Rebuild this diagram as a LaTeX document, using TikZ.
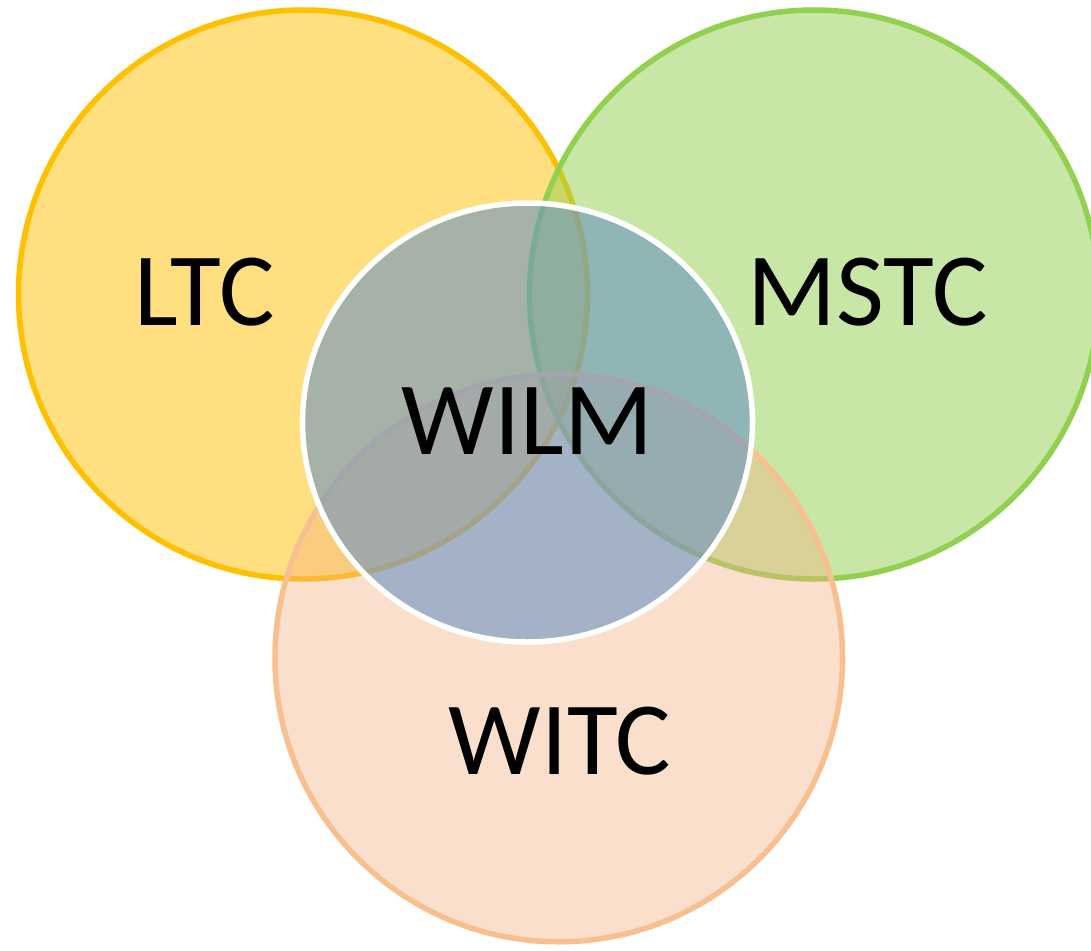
\documentclass[tikz,border=0pt]{standalone}
\usepackage{fontspec}
\setmainfont{Carlito}
\usetikzlibrary{shapes.geometric}
\definecolor{ltcline}{HTML}{FFC000}
\definecolor{mstcline}{HTML}{92D050}
\definecolor{witcline}{HTML}{F8C08E}
\definecolor{witcfill}{HTML}{F4B183}
\definecolor{wilmfill}{HTML}{6B94C3}
\tikzset{
  venn/.style={circle, inner sep=0pt, line width=5.5pt, fill opacity=0.5, draw opacity=1},
  lbl/.style={inner sep=0pt, text=black, font=\fontsize{104}{118}\selectfont}
}
\begin{document}
\begin{tikzpicture}[x=1pt, y=-1pt]
\useasboundingbox (0,0) rectangle (1091,950);
\clip (0,0) rectangle (1091,950);
\fill[white] (0,0) rectangle (1091,950);
\node[venn, draw=ltcline, fill=ltcline, minimum size=569pt] (ltc) at (303,294.5) {};
\node[venn, draw=mstcline, fill=mstcline, minimum size=569pt] (mstc) at (814,294.5) {};
\node[venn, draw=witcline, fill=witcfill, fill opacity=0.4, minimum size=567.5pt] (witc) at (558.75,658) {};
\node[ellipse, inner sep=0pt, line width=5.5pt, draw=white, fill=wilmfill, fill opacity=0.6, draw opacity=1, minimum width=450pt, minimum height=439pt] (wilm) at (527.5,422.5) {};
\node[lbl] (tltc) at (204.5,292) {LTC};
\node[lbl] (tmstc) at (867.5,292) {MSTC};
\node[lbl] (twilm) at (527.5,421) {WILM};
\node[lbl] (twitc) at (560,741) {WITC};
\end{tikzpicture}
\end{document}
